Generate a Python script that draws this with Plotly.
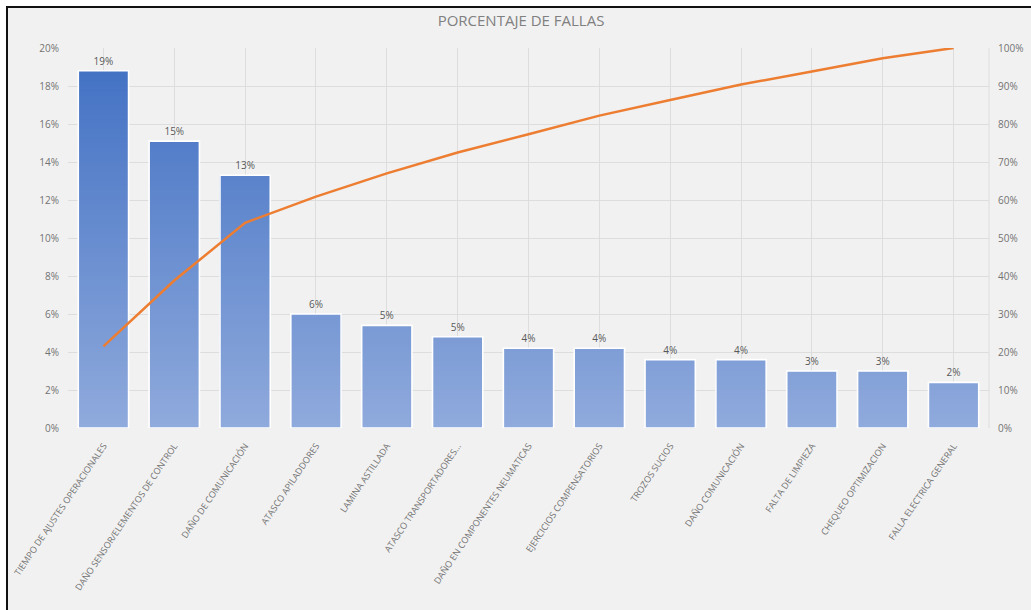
import plotly.graph_objects as go

# Failure categories, their share of failures (%), and the cumulative share (%)
categorias = [
    "TIEMPO DE AJUSTES OPERACIONALES",
    "DAÑO SENSOR/ELEMENTOS DE CONTROL",
    "DAÑO DE COMUNICACIÓN",
    "ATASCO APILADDORES",
    "LAMINA ASTILLADA",
    "ATASCO TRANSPORTADORES...",
    "DAÑO EN COMPONENTES NEUMATICAS",
    "EJERCICIOS COMPENSATORIOS",
    "TROZOS SUCIOS",
    "DAÑO COMUNICACIÓN",
    "FALTA DE LIMPIEZA",
    "CHEQUEO OPTIMIZACION",
    "FALLA ELECTRICA GENERAL",
]
porcentaje = [18.8, 15.1, 13.3, 6.0, 5.4, 4.8, 4.2, 4.2, 3.6, 3.6, 3.0, 3.0, 2.4]
acumulado = [21.5, 38.8, 54.0, 60.9, 67.0, 72.5, 77.3, 82.2, 86.3, 90.4, 93.8, 97.3, 100.0]

ticks_izq = [0, 2, 4, 6, 8, 10, 12, 14, 16, 18, 20]
ticks_der = [0, 10, 20, 30, 40, 50, 60, 70, 80, 90, 100]

# plot-area geometry in pixels
W, H = 1031, 610
L, R, T, B = 68, 989, 48, 428

BOTTOM_RGB = (0x8F, 0xAA, 0xDC)
TOP_RGB = (0x44, 0x72, 0xC4)
TOP_VAL = 19.0


def lerp_color(v):
    f = max(0.0, min(1.0, v / TOP_VAL))
    c = [round(a + (b - a) * f) for a, b in zip(BOTTOM_RGB, TOP_RGB)]
    return "rgb(%d,%d,%d)" % tuple(c)


fig = go.Figure()

# vertical gradient fill: each layer starts higher and runs to the bar top,
# later layers covering earlier ones so no seams show between bands
BAND = 0.25
nb = int(20 / BAND)
for i in range(nb):
    lo = i * BAND
    hs = [(v - lo) if v > lo else None for v in porcentaje]
    if all(h is None for h in hs):
        continue
    fig.add_trace(go.Bar(
        x=categorias, y=hs, base=[lo] * len(hs),
        marker=dict(color=lerp_color(lo + BAND / 2), line=dict(width=0)),
        showlegend=False, hoverinfo="skip",
    ))

# bar outlines and value labels
fig.add_trace(go.Bar(
    x=categorias, y=porcentaje,
    marker=dict(color="rgba(0,0,0,0)", line=dict(color="white", width=1.6)),
    texttemplate="%{y:.0f}%", textposition="outside",
    textfont=dict(family="Liberation Sans Narrow, Open Sans, sans-serif", size=10, color="#595959"),
    cliponaxis=False, showlegend=False, name="Porcentaje",
))

# cumulative line
fig.add_trace(go.Scatter(
    x=categorias, y=acumulado, yaxis="y2", mode="lines",
    line=dict(color="#ED7D31", width=2.5), showlegend=False, name="Acumulado",
))

pw, ph = R - L, B - T


def px_to_paper_x(x):
    return (x - L) / pw


def px_to_paper_y(y):
    return (B - y) / ph


shapes = [
    # light grey chart area
    dict(type="rect", xref="paper", yref="paper",
         x0=px_to_paper_x(7), x1=px_to_paper_x(W + 200),
         y0=px_to_paper_y(H + 200), y1=px_to_paper_y(7),
         fillcolor="#f1f1f1", line=dict(width=0), layer="below"),
    # frame: top and left edges
    dict(type="line", xref="paper", yref="paper",
         x0=px_to_paper_x(6), x1=px_to_paper_x(W + 10),
         y0=px_to_paper_y(7), y1=px_to_paper_y(7),
         line=dict(color="#111111", width=2), layer="below"),
    dict(type="line", xref="paper", yref="paper",
         x0=px_to_paper_x(7), x1=px_to_paper_x(7),
         y0=px_to_paper_y(6), y1=px_to_paper_y(H + 10),
         line=dict(color="#111111", width=2), layer="below"),
    # right edge grid line
    dict(type="line", xref="paper", yref="paper", x0=1, x1=1, y0=0, y1=1,
         line=dict(color="#dddddd", width=1), layer="below"),
]

tick_font = dict(family="Liberation Sans Narrow, Open Sans, sans-serif", size=10, color="#737373")
xtick_font = dict(family="Liberation Sans Narrow, Open Sans, sans-serif", size=9, color="#737373")

fig.update_layout(
    width=W, height=H,
    margin=dict(l=L, r=W - R, t=T, b=H - B, autoexpand=False),
    paper_bgcolor="white",
    plot_bgcolor="rgba(0,0,0,0)",
    barmode="overlay",
    bargap=0.29,
    shapes=shapes,
    title=dict(text="PORCENTAJE DE FALLAS", x=521 / W, xanchor="center",
               y=1 - 21 / H, yanchor="middle",
               font=dict(family="Open Sans, sans-serif", size=15, color="#808080")),
    xaxis=dict(
        type="category", showgrid=True, gridcolor="#dddddd", gridwidth=1,
        tickangle=-56, tickfont=xtick_font, ticks="", showline=False,
        zeroline=False, automargin=False, ticklabelstandoff=10,
    ),
    yaxis=dict(
        range=[0, 20], tickvals=ticks_izq, ticktext=[f"{v}%" for v in ticks_izq],
        showgrid=True, gridcolor="#dddddd", gridwidth=1, zeroline=False,
        tickfont=tick_font, ticks="", ticklabelstandoff=8, automargin=False,
    ),
    yaxis2=dict(
        range=[0, 100], overlaying="y", side="right",
        tickvals=ticks_der, ticktext=[f"{v}%" for v in ticks_der],
        showgrid=False, zeroline=False, tickfont=tick_font, ticks="",
        ticklabelstandoff=8, automargin=False,
    ),
)

fig.write_html("out.html")
